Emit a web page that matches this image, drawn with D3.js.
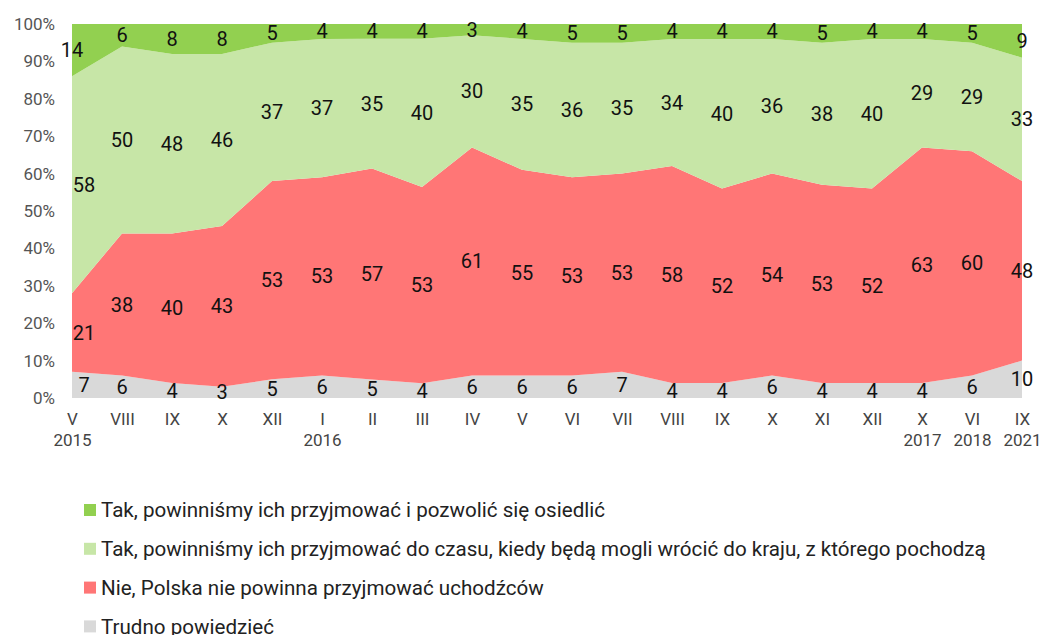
<!DOCTYPE html>
<html><head><meta charset="utf-8">
<script src="https://cdn.jsdelivr.net/npm/d3@7"></script>
<style>body{margin:0;background:#fff;}svg{font-family:Roboto,"Noto Sans",sans-serif;}</style>
</head><body>
<svg id="c" width="1040" height="635"></svg>
<script>
const months = ["V","VIII","IX","X","XII","I","II","III","IV","V","VI","VII","VIII","IX","X","XI","XII","X","VI","IX"];
const years  = ["2015","","","","","2016","","","","","","","","","","","","2017","2018","2021"];
const trudno   = [7,6,4,3,5,6,5,4,6,6,6,7,4,4,6,4,4,4,6,10];
const nie      = [21,38,40,43,53,53,57,53,61,55,53,53,58,52,54,53,52,63,60,48];
const takCzas  = [58,50,48,46,37,37,35,40,30,35,36,35,34,40,36,38,40,29,29,33];
const takOsiedl= [14,6,8,8,5,4,4,4,3,4,5,5,4,4,4,5,4,4,5,9];
const seriesNames = ["Trudno powiedzieć","Nie, Polska nie powinna przyjmować uchodźców","Tak, powinniśmy ich przyjmować do czasu, kiedy będą mogli wrócić do kraju, z którego pochodzą","Tak, powinniśmy ich przyjmować i pozwolić się osiedlić"];
const colors = ["#d9d9d9","#ff7676","#c7e6a7","#92d050"];
const yTicks = [0,0.1,0.2,0.3,0.4,0.5,0.6,0.7,0.8,0.9,1];

const keys = ["t","n","c","o"];
const rows = months.map((m,i)=>({i, t:trudno[i], n:nie[i], c:takCzas[i], o:takOsiedl[i]}));
const stack = d3.stack().keys(keys).offset(d3.stackOffsetExpand)(rows);

const svg = d3.select("#c");
const L=72,R=1022,T=24,B=398;
const x = d3.scaleLinear().domain([0,months.length-1]).range([L,R]);
const y = d3.scaleLinear().domain([0,1]).range([B,T]);

const area = d3.area().x((d,i)=>x(i)).y0(d=>y(d[0])).y1(d=>y(d[1]));
svg.append("g").selectAll("path").data(stack).join("path")
  .attr("d",area).attr("fill",(d,k)=>colors[k]);

// y axis
const yAxis = d3.axisLeft(y).tickValues(yTicks).tickFormat(d3.format(".0%")).tickSize(0).tickPadding(17);
const gy = svg.append("g").attr("transform",`translate(${L},0)`).call(yAxis);
gy.select(".domain").remove();
gy.selectAll("text").attr("font-size",17).attr("fill","#555").attr("font-family","Roboto");

// x axis
const xAxis = d3.axisBottom(x).tickValues(d3.range(months.length)).tickFormat(i=>months[i]).tickSize(0).tickPadding(15);
const gx = svg.append("g").attr("transform",`translate(0,${B})`).call(xAxis);
gx.select(".domain").remove();
gx.selectAll("text").attr("font-size",17).attr("fill","#444").attr("font-family","Roboto");
gx.selectAll(".tick").append("text").text(i=>years[i]).attr("y",48).attr("fill","#444")
  .attr("font-size",17).attr("text-anchor","middle").attr("font-family","Roboto");

// labels
const lab = svg.append("g");
stack.forEach((s,k)=>{
  s.forEach((d,i)=>{
    const v = d.data[keys[k]];
    let dx = 0;
    if(i===0 && k<3) dx = 12;
    lab.append("text").attr("x",x(i)+dx).attr("y",y((d[0]+d[1])/2))
      .attr("dy","0.35em").attr("text-anchor","middle").attr("font-size",20)
      .attr("fill","#111").text(v);
  });
});

// legend
const legOrder = [3,2,1,0];
const lg = svg.append("g");
legOrder.forEach((k,j)=>{
  const yy = 510 + j*38.8;
  lg.append("rect").attr("x",84).attr("y",yy-6).attr("width",12).attr("height",12).attr("fill",colors[k]);
  lg.append("text").attr("x",101).attr("y",yy).attr("dy","0.35em").attr("font-size",20.6).attr("fill","#222").text(seriesNames[k]);
});
</script>
</body></html>
